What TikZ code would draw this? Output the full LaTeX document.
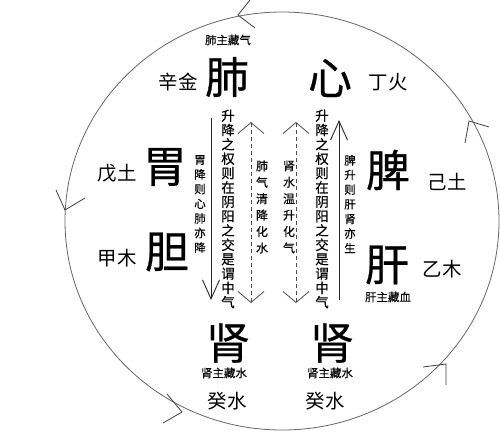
\documentclass[tikz,border=0pt]{standalone}
\usepackage{fontspec}
\newfontfamily\cjk{Noto Sans CJK SC}
\newfontfamily\cjkb[FakeBold=0.6]{Noto Sans CJK SC}
\newfontfamily\cjkm[FakeBold=0.3]{Noto Sans CJK SC}
\usetikzlibrary{arrows.meta}
\begin{document}
\begin{tikzpicture}[x=1bp,y=-1bp,
  big/.style={font=\cjkb\fontsize{44}{44}\selectfont, inner sep=0},
  mid/.style={font=\cjk\fontsize{19.5}{19.5}\selectfont, inner sep=0},
  small/.style={font=\cjkm\fontsize{11.5}{11.5}\selectfont, inner sep=0},
  vcol/.style={font=\cjkm\fontsize{13.5}{14.4}\selectfont, align=center, inner sep=0},
  vsm/.style={font=\cjkm\fontsize{11.5}{14.7}\selectfont, align=center, inner sep=0},
  vwide/.style={font=\cjkm\fontsize{12}{16.5}\selectfont, align=center, inner sep=0},
  ring/.style={draw=black!60, line width=0.8bp},
  vtip/.style={draw=black!75, line width=0.8bp},
  solidarrow/.style={draw=black!85, line width=0.9bp, -{Straight Barb[length=19bp,width=17bp]}},
  dasharrow/.style={draw=black!70, line width=0.8bp, dash pattern=on 4bp off 3bp,
     {Straight Barb[length=11bp,width=26bp]}-{Straight Barb[length=11bp,width=26bp]}},
]
\useasboundingbox (0,0) rectangle (500,432);
\fill[white] (0,0) rectangle (500,432);

% ring with direction marks
\draw[ring] (282,221) ellipse [x radius=217, y radius=209];
\draw[vtip] (250,0) -- (238,15) -- (255,28);
\draw[vtip] (56,190) -- (65,210) -- (85,198);
\draw[vtip] (167,394) -- (182,412) -- (163,423);
\draw[vtip] (423,367) -- (446,364) -- (446,385);
\draw[vtip] (489,127) -- (469,121) -- (465,143);

% organs
\node[small] (fzq) at (228,40) {肺主藏气};
\node[big] (fei) at (227,77) {肺};
\node[mid] (xj) at (178,82) {辛金};
\node[big] (xin) at (330,78) {心};
\node[mid] (dh) at (388,82) {丁火};
\node[big] (wei) at (165,167) {胃};
\node[mid] (wt) at (117,173) {戊土};
\node[big] (dan) at (167,252) {胆};
\node[mid] (jm) at (117,258) {甲木};
\node[big] (pi) at (388,170) {脾};
\node[mid] (jt) at (447,182) {己土};
\node[big] (gan) at (387,265) {肝};
\node[mid] (ym) at (442,269) {乙木};
\node[small] (gzx) at (388,297) {肝主藏血};
\node[big] (shenL) at (228,343) {肾};
\node[big] (shenR) at (332,343) {肾};
\node[small] (szsL) at (224,373) {肾主藏水};
\node[small] (szsR) at (330,373) {肾主藏水};
\node[mid] (gsL) at (227,401) {癸水};
\node[mid] (gsR) at (325,401) {癸水};

% vertical texts
\node[vcol] (colL) at (228,209) {升\\降\\之\\权\\则\\在\\阴\\阳\\之\\交\\是\\谓\\中\\气};
\node[vcol] (colR) at (322,209) {升\\降\\之\\权\\则\\在\\阴\\阳\\之\\交\\是\\谓\\中\\气};
\node[vsm] (wj) at (200,204) {胃\\降\\则\\心\\肺\\亦\\降};
\node[vsm] (ps) at (350,204) {脾\\升\\则\\肝\\肾\\亦\\生};
\node[vwide] (fq) at (262,207) {肺\\气\\清\\降\\化\\水};
\node[vwide] (sw) at (289,207) {肾\\水\\温\\升\\化\\气};

% arrows
\coordinate (a1) at (211,118);
\coordinate (a2) at (211,300);
\coordinate (b1) at (251,122);
\coordinate (b2) at (251,303);
\coordinate (c1) at (296,122);
\coordinate (c2) at (296,303);
\coordinate (d1) at (339,300);
\coordinate (d2) at (339,120);
\draw[solidarrow] (a1) -- (a2);
\draw[dasharrow] (b1) -- (b2);
\draw[dasharrow] (c1) -- (c2);
\draw[solidarrow] (d1) -- (d2);
\end{tikzpicture}
\end{document}
